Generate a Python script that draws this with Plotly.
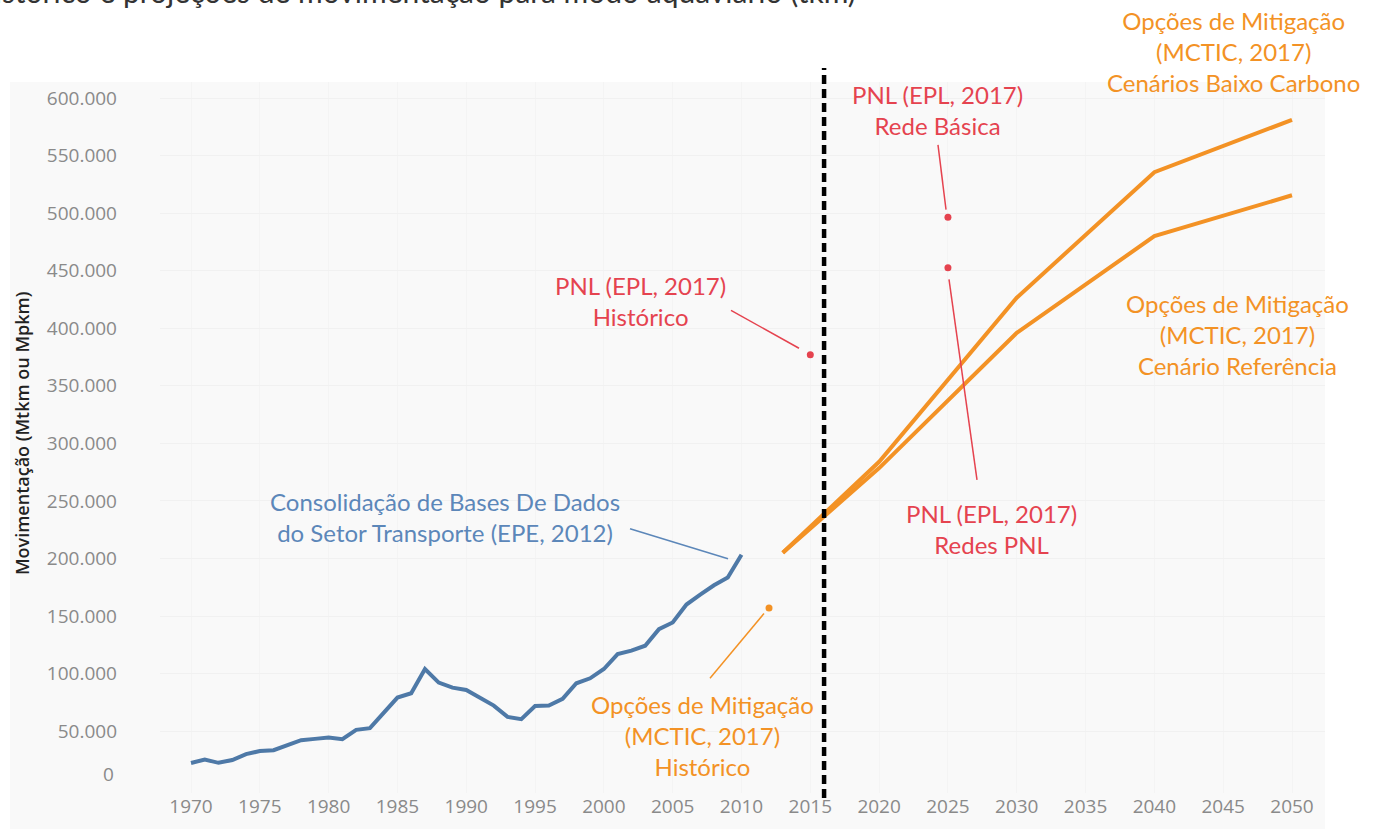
import plotly.graph_objects as go

# ---------------- data ----------------
hist_years = list(range(1970, 2011))
epe_hist = [22.3, 25.4, 22.5, 24.9, 30.1, 32.7, 33.5, 38.1, 42.2, 43.3,
            44.5, 43.0, 51.1, 52.6, 65.6, 79.2, 82.9, 104.0, 92.2, 87.8,
            85.8, 78.8, 72.2, 62.4, 60.4, 71.9, 72.2, 78.0, 91.6, 95.9,
            104.0, 116.9, 119.9, 124.2, 138.6, 144.4, 160.0, 168.6, 176.7, 183.4,
            203.3]
epe_hist = [v * 1000 for v in epe_hist]

proj_years = [2013, 2020, 2030, 2040, 2050]
mctic_baixo = [205000, 284000, 426500, 535500, 581000]
mctic_ref = [205000, 278500, 396000, 480000, 515500]

mctic_hist_year = [2012]
mctic_hist = [157000]

pnl_hist_year = [2015]
pnl_hist = [377000]
pnl_basica_year = [2025]
pnl_basica = [496500]
pnl_redes_year = [2025]
pnl_redes = [452500]

divider_year = 2016

x_ticks = list(range(1970, 2051, 5))
y_ticks = list(range(50000, 600001, 50000))

# ---------------- styling ----------------
BLUE = "#4e79a7"
BLUE_TXT = "#5c87b9"
RED = "#e5434f"
ORANGE = "#f39225"
TICK = "#8a8a8a"
FONT = "Lato"

W, H = 1380, 831
ML, MR, MT, MB = 160, 55, 82, 36
X0, X1 = 1967.747, 2052.398
Y0, Y1 = -3720, 613900
PW = W - ML - MR
PH = H - MT - MB


def px2x(px):
    return X0 + (px - ML) / PW * (X1 - X0)


def py2y(py):
    return Y0 + (H - MB - py) / PH * (Y1 - Y0)


def ppx(px):
    return (px - ML) / PW


def ppy(py):
    return (H - MB - py) / PH


fig = go.Figure()

fig.add_trace(go.Scatter(x=hist_years, y=epe_hist, mode="lines",
                         line=dict(color=BLUE, width=4), hoverinfo="skip"))
fig.add_trace(go.Scatter(x=proj_years, y=mctic_ref, mode="lines",
                         line=dict(color=ORANGE, width=4), hoverinfo="skip"))
fig.add_trace(go.Scatter(x=proj_years, y=mctic_baixo, mode="lines",
                         line=dict(color=ORANGE, width=4), hoverinfo="skip"))
fig.add_trace(go.Scatter(x=mctic_hist_year, y=mctic_hist, mode="markers",
                         marker=dict(color=ORANGE, size=7), hoverinfo="skip"))
for xs, ys in [(pnl_hist_year, pnl_hist), (pnl_basica_year, pnl_basica),
               (pnl_redes_year, pnl_redes)]:
    fig.add_trace(go.Scatter(x=xs, y=ys, mode="markers",
                             marker=dict(color=RED, size=7), hoverinfo="skip"))

shapes = []
# panel background (extends under tick labels)
shapes.append(dict(type="rect", xref="paper", yref="paper",
                   x0=ppx(10), x1=ppx(1325), y0=ppy(831), y1=ppy(82),
                   fillcolor="#f9f9f9", line=dict(width=0), layer="below"))
# vertical dashed divider
shapes.append(dict(type="line", xref="x", yref="paper",
                   x0=divider_year, x1=divider_year, y0=ppy(800), y1=ppy(68),
                   line=dict(color="black", width=4.5, dash="9px,5px")))
# leader lines
leaders = [
    ((630, 530), (728, 560), BLUE_TXT),
    ((731, 311), (799, 349), RED),
    ((938, 145), (946, 210), RED),
    ((949, 280), (977, 481), RED),
    ((710, 680), (764, 615), ORANGE),
]
for (xa, ya), (xb, yb), c in leaders:
    shapes.append(dict(type="line", xref="x", yref="y",
                       x0=px2x(xa), y0=py2y(ya), x1=px2x(xb), y1=py2y(yb),
                       line=dict(color=c, width=1.5)))

annotations = []
labels = [
    ("Consolidação de Bases De Dados<br>do Setor Transporte (EPE, 2012)", 445, 518, BLUE_TXT),
    ("PNL (EPL, 2017)<br>Histórico", 640, 302, RED),
    ("PNL (EPL, 2017)<br>Rede Básica", 937, 110, RED),
    ("PNL (EPL, 2017)<br>Redes PNL", 991, 530, RED),
    ("Opções de Mitigação<br>(MCTIC, 2017)<br>Histórico", 702, 737, ORANGE),
    ("Opções de Mitigação<br>(MCTIC, 2017)<br>Cenários Baixo Carbono", 1233, 51, ORANGE),
    ("Opções de Mitigação<br>(MCTIC, 2017)<br>Cenário Referência", 1237, 335, ORANGE),
]
for txt, cx, cy, c in labels:
    annotations.append(dict(text=txt, xref="paper", yref="paper",
                            x=ppx(cx), y=ppy(cy), xanchor="center", yanchor="middle",
                            showarrow=False, align="center",
                            font=dict(family=FONT, size=24, color=c)))

# zero tick label (Tableau draws it lifted above the baseline)
annotations.append(dict(text="0", xref="paper", yref="y", x=ppx(116), y=0,
                        xanchor="right", yanchor="middle", yshift=15, showarrow=False,
                        font=dict(family="Open Sans", size=19, color=TICK)))
# y axis title
annotations.append(dict(text="Movimentação (Mtkm ou Mpkm)", xref="paper", yref="paper",
                        x=ppx(22), y=ppy(435), textangle=-90, showarrow=False,
                        xanchor="center", yanchor="middle",
                        font=dict(family="Open Sans", size=18, color="#222222",
                                  weight=600)))
# clipped page title
annotations.append(dict(text="Histórico e projeções de movimentação para modo aquaviário (tkm)",
                        xref="paper", yref="paper", x=ppx(858), y=ppy(11),
                        xanchor="right", yanchor="bottom", showarrow=False,
                        font=dict(family=FONT, size=30, color="#333333")))

fig.update_layout(
    width=W, height=H,
    margin=dict(l=ML, r=MR, t=MT, b=MB),
    paper_bgcolor="white",
    plot_bgcolor="#f9f9f9",
    showlegend=False,
    separators=",.",
    shapes=shapes,
    annotations=annotations,
    xaxis=dict(range=[X0, X1], tickvals=x_ticks, showgrid=True, gridcolor="#f4f4f4",
               zeroline=False, showline=False, ticks="",
               tickfont=dict(family="Open Sans", size=19, color=TICK)),
    yaxis=dict(range=[Y0, Y1], tickvals=y_ticks, tickformat=",d", showgrid=True,
               gridcolor="#f1f1f1", zeroline=False, showline=False, ticks="",
               ticklabelstandoff=42,
               tickfont=dict(family="Open Sans", size=19, color=TICK)),
)

fig.write_html("out.html", config={"displayModeBar": False},
               post_script="document.body.style.margin='0px';")
